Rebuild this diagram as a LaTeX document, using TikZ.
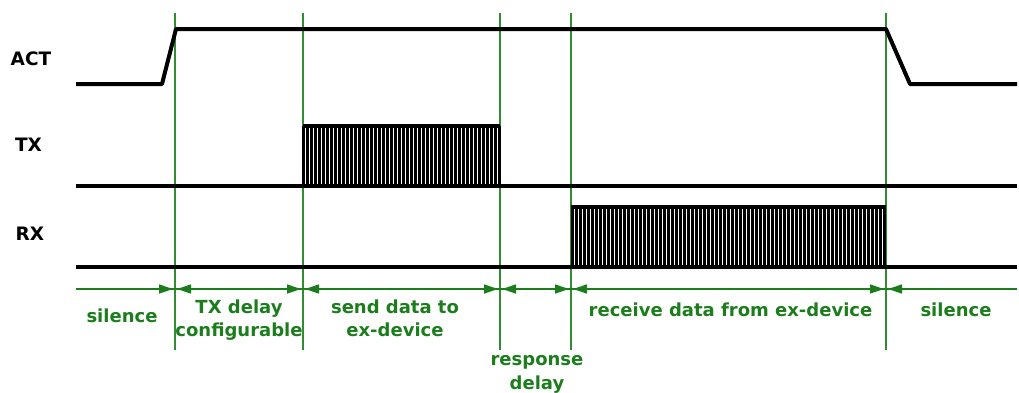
\documentclass[tikz,border=0pt]{standalone}
\usepackage{fontspec}
\setmainfont{DejaVu Sans}
\usetikzlibrary{arrows.meta}
\definecolor{grn}{RGB}{28,125,28}
\definecolor{vgrn}{RGB}{50,140,50}
\newcommand{\twolines}[2]{\begin{tabular}[t]{@{}c@{}}#1\\#2\end{tabular}}
\begin{document}
\begin{tikzpicture}[x=1pt,y=-1pt,
  sig/.style={line width=4pt, line join=round},
  hatchln/.style={line width=2.7pt},
  vline/.style={draw=vgrn, line width=1.2pt},
  dimln/.style={draw=grn, line width=1.4pt},
  dimbase/.style={draw=grn, fill=grn, line width=1.4pt},
  dimboth/.style={dimbase, {Triangle[length=14pt,width=9pt]}-{Triangle[length=14pt,width=9pt]}},
  dimright/.style={dimbase, -{Triangle[length=14pt,width=9pt]}},
  dimleft/.style={dimbase, {Triangle[length=14pt,width=9pt]}-},
  sigtext/.style={font=\fontsize{18.5}{23.4}\selectfont\bfseries, text=black, inner sep=0pt, anchor=base},
  lbl/.style={font=\fontsize{18}{23.4}\selectfont\bfseries, text=grn, inner sep=0pt, anchor=base}]
\useasboundingbox (0,0) rectangle (1019,392);
% vertical green markers
\foreach \n/\x in {a/175,b/303,c/500,d/571,e/886}{
  \coordinate (\n-top) at (\x,13);
  \coordinate (\n-bot) at (\x,350);
  \coordinate (\n-L) at (\x-2,289);
  \coordinate (\n-R) at (\x+2,289);
  \draw[vline] (\n-top) -- (\n-bot);
}
% dimension line
\coordinate (dimstart) at (76,289);
\coordinate (dimend) at (1017,289);
\draw[dimln] (dimstart) -- (dimend);
\draw[dimright] (dimstart) -- (a-L);
\draw[dimboth] (a-R) -- (b-L);
\draw[dimboth] (b-R) -- (c-L);
\draw[dimboth] (c-R) -- (d-L);
\draw[dimboth] (d-R) -- (e-L);
\draw[dimleft] (e-R) -- (dimend);
% ACT signal
\coordinate (act0) at (76,84);
\coordinate (act1) at (162,84);
\coordinate (act2) at (176,29);
\coordinate (act3) at (886,29);
\coordinate (act4) at (910,84);
\coordinate (act5) at (1017,84);
\draw[sig] (act0) -- (act1) -- (act2) -- (act3) -- (act4) -- (act5);
% TX signal
\coordinate (tx0) at (76,186);
\coordinate (tx1) at (1017,186);
\coordinate (txb0) at (303,126);
\coordinate (txb1) at (500,126);
\foreach \x in {303.5,307.5,...,499.5}{\draw[hatchln] (\x,126) -- (\x,186);}
\draw[sig] (tx0) -- (tx1);
\draw[sig] (txb0) -- (txb1);
% RX signal
\coordinate (rx0) at (76,267);
\coordinate (rx1) at (1017,267);
\coordinate (rxb0) at (571,207);
\coordinate (rxb1) at (886,207);
\foreach \x in {572.5,576.5,...,884.5}{\draw[hatchln] (\x,207) -- (\x,267);}
\draw[sig] (rx0) -- (rx1);
\draw[sig] (rxb0) -- (rxb1);
% signal names
\node[sigtext] (actlbl) at (31,65) {ACT};
\node[sigtext] (txlbl) at (28.5,151.7) {TX};
\node[sigtext] (rxlbl) at (30,240.7) {RX};
% interval labels
\node[lbl] (sil1) at (122,322.7) {silence};
\node[lbl] (txd) at (239,313.3) {\twolines{TX delay}{configurable}};
\node[lbl] (snd) at (395,313.3) {\twolines{send data to}{ex-device}};
\node[lbl] (rsp) at (537,365.7) {\twolines{response}{delay}};
\node[lbl] (rcv) at (730.5,316.7) {receive data from ex-device};
\node[lbl] (sil2) at (956,316.7) {silence};
\end{tikzpicture}
\end{document}
